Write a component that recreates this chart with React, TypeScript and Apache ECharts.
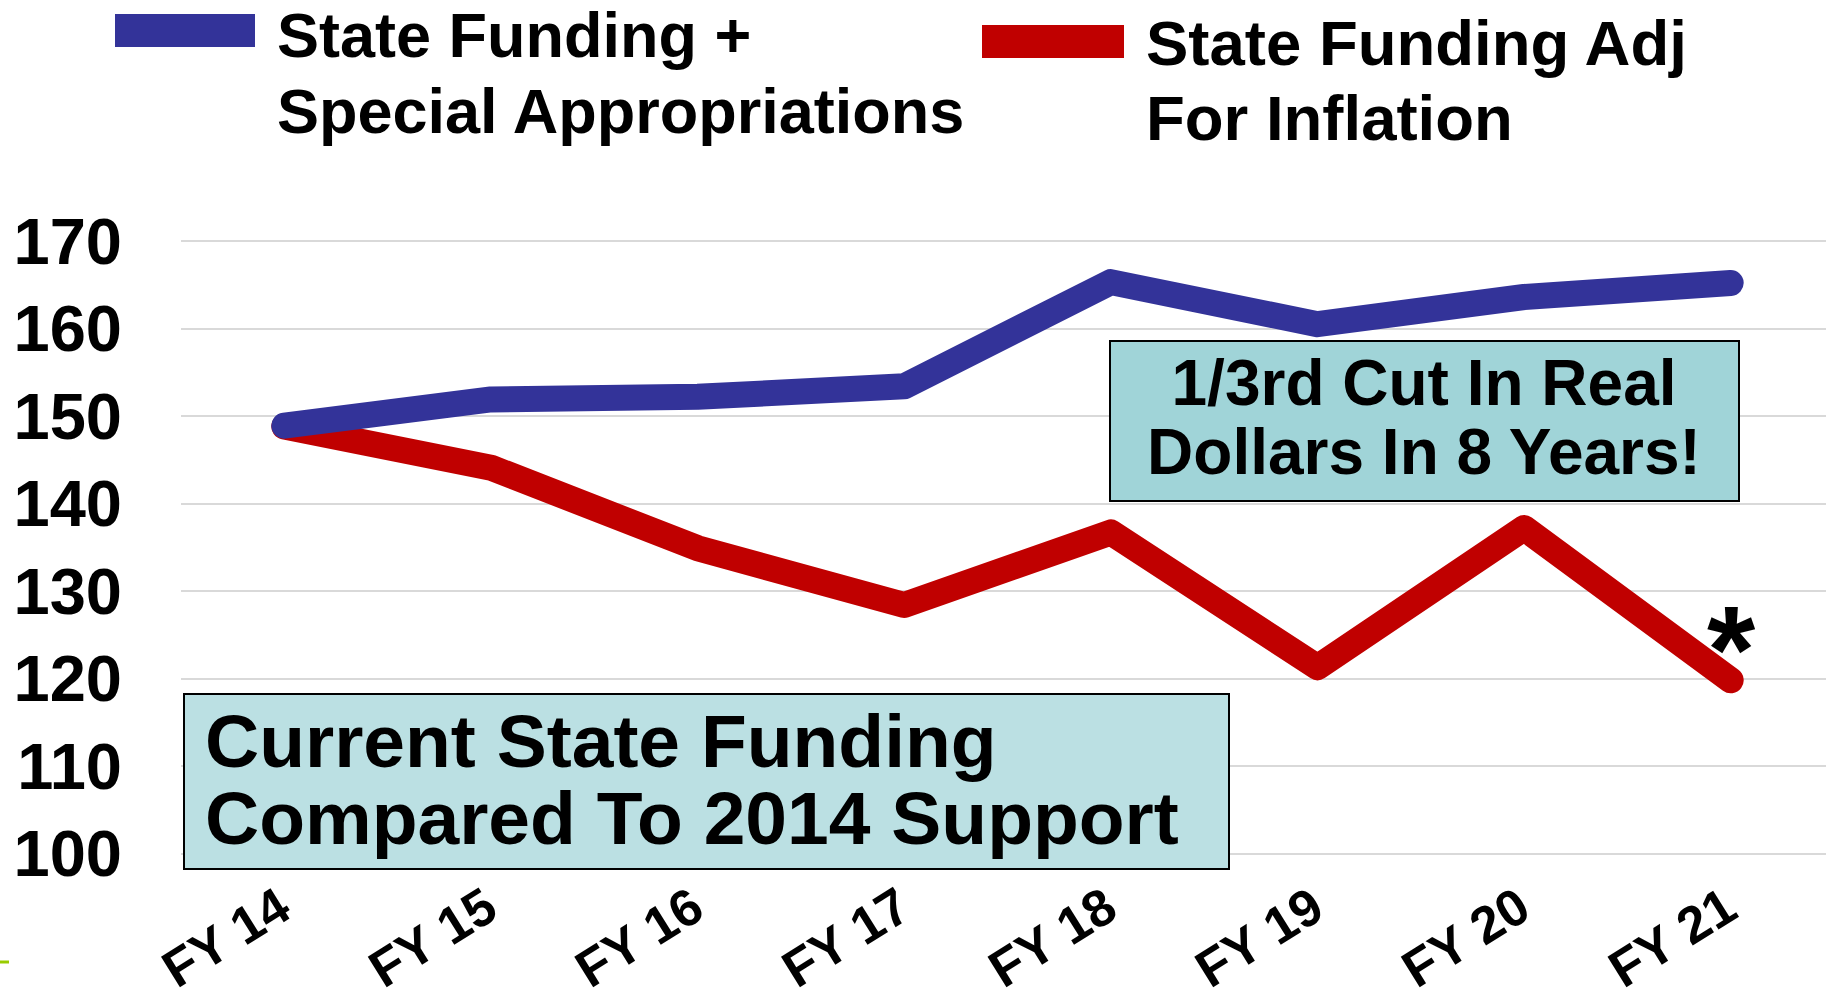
import React, { useEffect, useRef } from 'react';
import * as echarts from 'echarts';

const categories = ['FY 14', 'FY 15', 'FY 16', 'FY 17', 'FY 18', 'FY 19', 'FY 20', 'FY 21'];
const fundingPlusSpecial = [148.9, 151.9, 152.2, 153.4, 165.3, 160.5, 163.6, 165.2];
const fundingAdjInflation = [148.8, 144.1, 134.9, 128.4, 136.7, 121.3, 137.2, 119.8];
const yMin = 100;
const yMax = 170;
const yStep = 10;
const legendBlue = ['State Funding +', 'Special Appropriations'];
const legendRed = ['State Funding Adj', 'For Inflation'];
const noteCut = ['1/3rd Cut In Real', 'Dollars In 8 Years!'];
const noteCurrent = ['Current State Funding', 'Compared To 2014 Support'];
const footnoteMark = '*';

const FONT = '"Liberation Sans", Arial, Helvetica, sans-serif';
const BLUE = '#333399';
const RED = '#C00000';

function txt(text: string, x: number, y: number, size: number, align: string = 'left', z = 10) {
  return {
    type: 'text',
    x,
    y,
    z,
    style: {
      text,
      fill: '#000',
      fontSize: size,
      fontWeight: 'bold',
      fontFamily: FONT,
      align,
      textAlign: align,
      verticalAlign: 'middle',
      textVerticalAlign: 'middle',
    },
  };
}

export default function App() {
  const ref = useRef<HTMLDivElement>(null);
  useEffect(() => {
    if (!ref.current) return;
    const chart = echarts.init(ref.current, undefined, { renderer: 'svg' });
    const option: any = {
      animation: false,
      backgroundColor: '#ffffff',
      textStyle: { fontFamily: FONT },
      grid: {
        left: 181,
        right: -8,
        top: 241,
        bottom: 146.4,
        containLabel: false,
        outerBoundsMode: 'none',
      },
      xAxis: {
        type: 'category',
        data: categories,
        boundaryGap: true,
        axisLine: { show: false },
        axisTick: { show: false },
        axisLabel: {
          rotate: 32,
          margin: 47,
          fontSize: 52,
          fontWeight: 'bold',
          fontFamily: FONT,
          color: '#000',
          interval: 0,
        },
      },
      yAxis: {
        type: 'value',
        min: yMin,
        max: yMax,
        interval: yStep,
        axisLine: { show: false },
        axisTick: { show: false },
        axisLabel: {
          margin: 59,
          fontSize: 65,
          fontWeight: 'bold',
          fontFamily: FONT,
          color: '#000',
        },
        splitLine: { show: true, lineStyle: { color: '#D9D9D9', width: 2 } },
      },
      series: [
        {
          name: legendRed.join(' '),
          type: 'line',
          data: fundingAdjInflation,
          showSymbol: false,
          symbol: 'none',
          lineStyle: { color: RED, width: 26, cap: 'round', join: 'round' },
          z: 2,
        },
        {
          name: legendBlue.join(' '),
          type: 'line',
          data: fundingPlusSpecial,
          showSymbol: false,
          symbol: 'none',
          lineStyle: { color: BLUE, width: 26, cap: 'round', join: 'round' },
          z: 3,
        },
      ],
      graphic: [
        { type: 'rect', shape: { x: 115, y: 14, width: 140, height: 33 }, style: { fill: BLUE }, z: 10 },
        txt(legendBlue[0], 277, 34.5, 63),
        txt(legendBlue[1], 277, 111, 63),
        { type: 'rect', shape: { x: 982, y: 25, width: 142, height: 33 }, style: { fill: RED }, z: 10 },
        txt(legendRed[0], 1146, 42.5, 63.5),
        txt(legendRed[1], 1146, 118, 63.5),
        {
          type: 'rect',
          shape: { x: 1110, y: 341, width: 629, height: 160 },
          style: { fill: '#A0D4D8', stroke: '#000', lineWidth: 2 },
          z: 10,
        },
        txt(noteCut[0], 1424, 383, 64, 'center', 11),
        txt(noteCut[1], 1424, 452, 64, 'center', 11),
        {
          type: 'rect',
          shape: { x: 184, y: 694, width: 1045, height: 175 },
          style: { fill: '#BBE0E3', stroke: '#000', lineWidth: 2 },
          z: 10,
        },
        txt(noteCurrent[0], 205, 741, 75, 'left', 11),
        txt(noteCurrent[1], 205, 818, 75, 'left', 11),
        txt(footnoteMark, 1731, 650, 124, 'center', 11),
        {
          type: 'line',
          shape: { x1: 0, y1: 962, x2: 9, y2: 962 },
          style: { stroke: '#99CC00', lineWidth: 3 },
          z: 10,
        },
      ],
    };
    chart.setOption(option);
    return () => chart.dispose();
  }, []);
  return (
    <div
      ref={ref}
      style={{ position: 'fixed', left: 0, top: 0, width: 1826, height: 1000, background: '#fff' }}
    />
  );
}
